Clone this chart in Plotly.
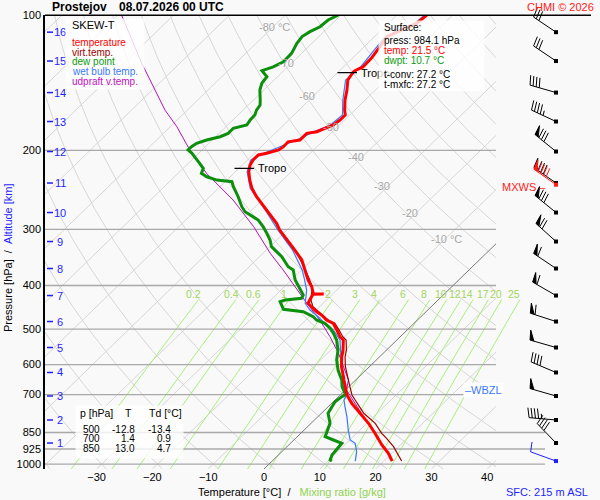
"""Skew-T log-p diagram, Prostejov 08.07.2026 00 UTC, rebuilt with Plotly."""

import math

import numpy as np
import plotly.graph_objects as go

# ---------------------------------------------------------------- data
# temperature profile [hPa], [degC]
temp_p = [984.1, 945.8, 906.3, 875.8, 853.5, 810.9, 770.4, 731.9, 701.3, 672.1,
          649.4, 638.5, 606.6, 576.3, 556.8, 529.0, 520.1, 502.6, 485.6, 477.4,
          465.4, 457.5, 445.9, 438.2, 430.8, 418.2, 417.8, 417.4, 402.4, 388.9,
          369.4, 351.0, 333.5, 316.7, 301.0, 290.8, 281.1, 271.6, 262.4, 253.7,
          242.9, 232.9, 223.2, 215.7, 210.1, 204.8, 203.0, 199.6, 196.3, 191.4,
          189.7, 183.3, 181.8, 178.3, 175.6, 171.2, 166.8, 162.7, 154.5, 146.8,
          139.4, 133.8, 132.8, 130.4, 124.6, 117.6, 111.6, 104.2, 100.0]
temp_t = [21.5, 19.4, 16.7, 14.8, 13.3, 10.3, 6.9, 3.6, 1.2, -0.7,
          -2.1, -2.8, -5.0, -6.8, -7.8, -9.6, -10.8, -12.6, -14.5, -16.3,
          -18.1, -19.6, -21.4, -22.7, -23.0, -23.5, -21.6, -23.5, -25.1, -27.0,
          -29.4, -31.8, -34.9, -38.2, -41.3, -43.1, -45.2, -47.3, -49.5, -51.6,
          -54.0, -55.9, -57.6, -58.6, -59.0, -59.0, -57.8, -56.3, -56.0, -56.1,
          -54.3, -54.3, -52.8, -52.0, -51.1, -50.8, -50.8, -51.8, -53.6, -55.1,
          -56.8, -57.3, -57.2, -56.5, -56.6, -57.2, -57.8, -54.9, -54.6]

virt_p = [984.1, 945.8, 914.2, 875.8, 853.5, 810.9, 770.4, 719.6, 701.3, 672.1,
          649.4, 606.6, 576.3, 556.8, 529.0, 520.1, 502.6, 485.6, 477.4, 465.4,
          445.9, 430.8, 402.4, 369.4, 333.5, 301.0]
virt_t = [23.2, 21.0, 19.1, 16.3, 14.5, 11.5, 7.6, 3.6, 2.1, 0.2,
          -1.3, -4.3, -6.2, -7.2, -9.1, -10.3, -12.2, -14.2, -16.0, -17.9,
          -21.2, -22.8, -25.0, -29.3, -34.8, -41.2]

dew_p = [984.1, 978.7, 954.0, 898.4, 883.4, 868.6, 853.5, 810.9, 770.4, 744.5,
         725.7, 707.3, 700.0, 672.1, 649.4, 617.0, 586.1, 556.8, 529.0, 511.1,
         498.2, 485.6, 477.4, 469.4, 457.5, 451.9, 434.6, 430.8, 427.1, 419.9,
         412.9, 405.8, 398.9, 388.9, 379.1, 369.4, 363.3, 345.1, 327.8, 316.7,
         306.1, 295.8, 285.9, 278.6, 274.0, 267.0, 253.7, 241.0, 234.8, 232.9,
         229.0, 225.0, 219.3, 212.0, 203.0, 199.6, 196.3, 192.9, 189.7, 186.5,
         183.3, 178.6, 175.6, 171.2, 166.8, 162.7, 158.5, 154.5, 146.8, 141.8,
         137.1, 132.9, 130.3, 127.0, 121.6, 115.5, 111.6, 108.8, 106.1, 102.5,
         100.0]
dew_t = [10.7, 10.2, 9.6, 9.2, 7.1, 5.0, 4.6, 3.4, 1.2, 0.6,
         0.3, 0.6, 0.9, -1.2, -2.5, -5.0, -7.1, -8.7, -10.8, -12.6,
         -14.1, -16.0, -18.1, -19.3, -22.0, -26.0, -28.0, -27.4, -24.8, -25.1,
         -26.0, -26.9, -27.8, -29.3, -30.4, -31.5, -33.0, -36.0, -39.7, -41.2,
         -43.0, -44.9, -47.0, -49.4, -50.9, -52.4, -54.9, -57.6, -58.8, -61.8,
         -64.2, -65.8, -66.4, -68.5, -71.2, -72.5, -72.5, -72.2, -71.0, -69.2,
         -68.4, -68.4, -66.6, -66.9, -67.0, -67.6, -67.9, -68.8, -70.7, -71.6,
         -71.9, -73.9, -72.6, -71.7, -71.8, -72.7, -73.0, -72.5, -71.6, -71.4,
         -70.5]

wetb_p = [984.1, 938.0, 898.4, 883.4, 839.2, 783.9, 744.5, 719.6, 700.0, 672.1,
          649.4, 617.0, 586.1, 556.8, 529.0, 502.6, 485.6, 469.4, 453.6, 438.2,
          418.0, 409.4, 388.9, 369.4, 333.5, 301.0, 271.6, 242.9, 223.2, 210.1,
          203.0, 196.3, 189.7, 181.8, 175.6, 166.8, 154.5, 139.4, 130.4, 119.6,
          111.6, 104.2, 100.0]
wetb_t = [14.9, 13.4, 11.6, 10.1, 7.9, 5.2, 3.0, 1.6, 1.1, -1.0,
          -2.3, -4.2, -6.3, -8.3, -10.2, -13.2, -16.0, -18.4, -21.1, -23.2,
          -24.8, -25.4, -27.6, -29.9, -35.3, -41.6, -47.6, -54.3, -57.9, -59.4,
          -58.3, -56.5, -54.9, -53.3, -51.6, -51.3, -54.0, -57.2, -56.9, -57.6,
          -58.1, -55.3, -55.0]

updraft_p = [770.4, 683.6, 649.4, 617.0, 566.3, 520.1, 477.4, 438.2, 402.4, 369.4,
             339.1, 295.8, 258.0, 225.0, 199.6, 177.2, 162.7, 128.0, 100.0]
updraft_t = [7.2, 0.2, -1.3, -3.8, -8.0, -12.6, -17.5, -22.9, -28.1, -33.3,
             -38.7, -46.6, -55.2, -64.9, -72.2, -78.8, -84.0, -96.8, -109.3]

tropo_p = [219.3, 134.3]
tropo_t = [-58.1, -57.3]

# altitude marks [km] and their pressure levels
km_levels = list(range(1, 17))
km_p = [897.1, 797.2, 704.9, 624.8, 549.7, 481.1, 421.1, 366.6, 319.2, 275.1,
        236.5, 201.2, 172.5, 148.7, 126.5, 109.1]

# wind: surface + every km level
wind_p = [984.1] + km_p
wind_dir = [290, 316, 275, 286, 293, 286, 288, 300, 304, 312, 309, 305, 309, 295, 286, 304, 304]
wind_kt = [10, 40, 45, 50, 40, 50, 60, 60, 60, 70, 80, 80, 80, 45, 40, 30, 30]
mxws_p, mxws_dir, mxws_kt = 238.5, 305, 90
wbzl_p = 683.6

sfc_press, sfc_temp, sfc_dwpt = 984.1, 21.5, 10.7
t_conv, t_mxfc = 27.2, 27.2
sfc_alt = 215

table_p = [500, 700, 850]
table_t = [-12.8, 1.4, 13.0]
table_td = [-13.4, 0.9, 4.7]

pressure_ticks = [100, 200, 300, 400, 500, 600, 700, 850, 925, 1000]
temp_ticks = [-30, -20, -10, 0, 10, 20, 30, 40]
isotherm_t = list(range(-120, 50, 10))
adiabat_theta = list(range(-40, 210, 10))
mix_ratios = [0.2, 0.4, 0.6, 1, 2, 3, 4, 6, 8, 10, 12, 14, 17, 20, 25]
iso_label_t = [-80, -70, -60, -50, -40, -30, -20, -10]
iso_label_p = [106.4, 127.6, 151.4, 177.4, 206.9, 240.2, 275.3, 315.1]

# ---------------------------------------------------------------- geometry
W, H = 600, 500
PX_LEFT, PX_RIGHT, PX_GRID_RIGHT = 45, 545, 496
PX_TOP, PX_BOT = 15.2, 469
P_TOP, P_BOT = 100.0, 1025.0
X_LEFT, X_RIGHT = -39.25, 50.36
SKEW = 36.0
X_GRID_RIGHT = X_LEFT + (PX_GRID_RIGHT - PX_LEFT) / (PX_RIGHT - PX_LEFT) * (X_RIGHT - X_LEFT)

FONT = "Liberation Sans, Arial, sans-serif"
GRID = "#d6d6d6"
ISOBAR = "#a9a9a9"
MIX_LINE = "#a9ef7c"
MIX_TEXT = "#a3d65a"
BLUE = "#1f1fff"


def skew_x(t, p):
    return np.asarray(t, dtype=float) + SKEW * np.log(P_BOT / np.asarray(p, dtype=float))


def px_y(p):
    return PX_BOT - (PX_BOT - PX_TOP) * math.log(P_BOT / p) / math.log(P_BOT / P_TOP)


def dewpoint_from_w(w, p):
    e = w * p / (622.0 + w)
    a = np.log(e / 6.112)
    return 243.5 * a / (17.67 - a)


def clip_right(xs, ps, xmax):
    out_x, out_p = [], []
    for i in range(len(xs)):
        inside = xs[i] <= xmax
        if i > 0 and inside != (xs[i - 1] <= xmax):
            f = (xmax - xs[i - 1]) / (xs[i] - xs[i - 1])
            lp = math.log(ps[i - 1]) + f * (math.log(ps[i]) - math.log(ps[i - 1]))
            out_x.append(xmax)
            out_p.append(math.exp(lp))
            if not inside:
                out_x.append(None)
                out_p.append(None)
        if inside:
            out_x.append(float(xs[i]))
            out_p.append(float(ps[i]))
    out_x.append(None)
    out_p.append(None)
    return out_x, out_p


def barb(px, py, d, kt, lines, flags, length=27.0, blen=10.0, step=3.2):
    a = math.radians(d)
    ux, uy = math.sin(a), -math.cos(a)
    nx, ny = -uy, ux
    ca, sa = math.cos(math.radians(78)), math.sin(math.radians(78))
    bx, by = ca * ux + sa * nx, ca * uy + sa * ny
    tx, ty = px + length * ux, py + length * uy
    lines += [(px, py), (tx, ty), None]
    n50, rest = divmod(kt, 50)
    n10, rest = divmod(rest, 10)
    s = 0.0
    for _ in range(n50):
        x0, y0 = tx - s * ux, ty - s * uy
        flags += [(x0, y0), (x0 + blen * bx, y0 + blen * by), (x0 - 4 * ux, y0 - 4 * uy), None]
        s += 5.0
    for _ in range(n10):
        x0, y0 = tx - s * ux, ty - s * uy
        lines += [(x0, y0), (x0 + blen * bx, y0 + blen * by), None]
        s += step
    if rest >= 5:
        x0, y0 = tx - s * ux, ty - s * uy
        lines += [(x0, y0), (x0 + 0.5 * blen * bx, y0 + 0.5 * blen * by), None]


def unzip(pts):
    return [q[0] if q else None for q in pts], [q[1] if q else None for q in pts]


fig = go.Figure()


def line(x, y, color, width, axes="main", **kw):
    ref = dict(xaxis="x2", yaxis="y2") if axes == "overlay" else {}
    fig.add_trace(go.Scatter(x=x, y=y, mode="lines", line=dict(color=color, width=width),
                             hoverinfo="skip", showlegend=False, **ref, **kw))


# ---------------------------------------------------------------- background grid
p_fine = np.geomspace(P_BOT, P_TOP, 300)
gx, gp = [], []
for t in isotherm_t:
    if t == 0:
        continue
    cx, cp = clip_right(skew_x(np.full_like(p_fine, t), p_fine), p_fine, X_GRID_RIGHT)
    gx += cx
    gp += cp
for th in adiabat_theta:
    t_line = (th + 273.15) * (p_fine / 1000.0) ** 0.2857 - 273.15
    cx, cp = clip_right(skew_x(t_line, p_fine), p_fine, X_GRID_RIGHT)
    gx += cx
    gp += cp
line(gx, gp, GRID, 1)

p_mix = np.geomspace(P_BOT, 430, 60)
mx, mp = [], []
for w in mix_ratios:
    mx += list(skew_x(dewpoint_from_w(w, p_mix), p_mix)) + [None]
    mp += list(p_mix) + [None]
line(mx, mp, MIX_LINE, 1)

ix, ip = [], []
for p in pressure_ticks[1:]:
    ix += [X_LEFT, X_RIGHT if p >= 850 else X_GRID_RIGHT, None]
    ip += [p, p, None]
line(ix, ip, ISOBAR, 1.3)

zx, zp = clip_right(skew_x(np.zeros_like(p_fine), p_fine), p_fine, X_GRID_RIGHT)
line(zx, zp, "#7a7a7a", 1)

# ---------------------------------------------------------------- profiles
line(list(skew_x(updraft_t, updraft_p)), updraft_p, "#b411b4", 1)
line(list(skew_x(virt_t, virt_p)), virt_p, "#a00000", 1.2)
line(list(skew_x(wetb_t, wetb_p)), wetb_p, "#3a78ff", 1.2)
line(list(skew_x(dew_t, dew_p)), dew_p, "#0c8f0c", 3)
line(list(skew_x(temp_t, temp_p)), temp_p, "#ff0000", 3)

tx_, tp_ = [], []
for p, t in zip(tropo_p, tropo_t):
    xc = float(skew_x(t, p))
    tx_ += [xc - 2.7, xc + 0.8, None]
    tp_ += [p, p, None]
line(tx_, tp_, "black", 1.2)

# ---------------------------------------------------------------- overlay decorations (pixel axes)
line([PX_LEFT, 591], [px_y(P_TOP), px_y(P_TOP)], "black", 1.5, axes="overlay")
kx, ky = [], []
for p in km_p:
    kx += [47, 53, None]
    ky += [px_y(p), px_y(p), None]
line(kx, ky, BLUE, 1.5, axes="overlay")

BARB_X = 556
for color, levels in (
    ("black", [(p, d, s) for p, d, s in zip(wind_p[1:], wind_dir[1:], wind_kt[1:])]),
    ("#ff1a1a", [(mxws_p, mxws_dir, mxws_kt)]),
    ("#1f1fff", [(wind_p[0], wind_dir[0], wind_kt[0])]),
):
    lines, flags = [], []
    for p, d, s in levels:
        barb(BARB_X, px_y(p), d, s, lines, flags)
    lx, ly = unzip(lines)
    line(lx, ly, color, 1, axes="overlay")
    if flags:
        fx, fy = unzip(flags)
        fig.add_trace(go.Scatter(x=fx, y=fy, mode="lines", fill="toself", fillcolor=color,
                                 line=dict(color=color, width=1), hoverinfo="skip",
                                 showlegend=False, xaxis="x2", yaxis="y2"))
    fig.add_trace(go.Scatter(x=[BARB_X] * len(levels), y=[px_y(q[0]) for q in levels],
                             mode="markers", marker=dict(symbol="square", size=4, color=color),
                             hoverinfo="skip", showlegend=False, xaxis="x2", yaxis="y2"))

# ---------------------------------------------------------------- text
ann = []


def txt(x, y, text, size=10, color="black", anchor="left", ref="overlay", **kw):
    xr, yr = ("x2", "y2") if ref == "overlay" else ("x", "y")
    ann.append(dict(x=x, y=y, xref=xr, yref=yr, text=text, showarrow=False, xanchor=anchor,
                    yanchor="middle", font=dict(family=FONT, size=size, color=color), **kw))


def box(x, y, w, h):
    ann.append(dict(x=x, y=y, xref="x2", yref="y2", text="&nbsp;", showarrow=False,
                    xanchor="left", yanchor="top", width=w, height=h, borderpad=0,
                    bgcolor="rgba(255,255,255,0.8)"))


for t, p in zip(iso_label_t, iso_label_p):
    label = f"{t} °C" if t in (-80, -10) else f"{t}"
    txt(float(skew_x(t, p)), math.log10(p), label, size=11, color="#a8a8a8", ref="main", xshift=-16)

for w in mix_ratios:
    xw = float(skew_x(dewpoint_from_w(w, 418.0), 418.0))
    txt(xw, math.log10(418.0), f"{w:g}", size=10.5, color=MIX_TEXT, anchor="center", ref="main", xshift=-9)

for p, t in zip(tropo_p, tropo_t):
    txt(float(skew_x(t, p)) + 0.8, math.log10(p), "Tropo", size=11, ref="main", xshift=2)

for km, p in zip(km_levels, km_p):
    txt(60, px_y(p), str(km), size=11, color=BLUE, anchor="center")

txt(548, px_y(mxws_p) + 2, "MXWS –", size=11, color="#ff2020", anchor="right")
txt(463, px_y(wbzl_p), "–WBZL", size=11, color="#3a78ff", bgcolor="white", borderpad=1)

# legend
box(65, 18, 78, 70)
txt(70, 25, "SKEW-T", size=11)
for i, (name, color) in enumerate([("temperature", "#ff0000"), ("virt.temp.", "#a00000"),
                                    ("dew point", "#0c9a0c"), ("wet bulb temp.", "#3a78ff"),
                                    ("udpraft v.temp.", "#c010c0")]):
    txt(70, 42.5 + 9.7 * i, name, color=color)

# surface box
box(378, 20, 105, 70)
txt(382, 27.3, "Surface:")
txt(382, 40, f"press: {sfc_press:.1f} hPa")
txt(382, 50, f"temp: {sfc_temp:.1f} °C", color="#ff0000")
txt(382, 60, f"dwpt: {sfc_dwpt:.1f} °C", color="#0c9a0c")
txt(382, 74.5, f"t-conv: {t_conv:.1f} °C")
txt(382, 84.3, f"t-mxfc: {t_mxfc:.1f} °C")

# level table
box(75, 405, 107, 52)
txt(78, 413, "p [hPa]", size=10.5)
txt(128, 413, "T", size=10.5, anchor="center")
txt(147, 413, "Td [°C]", size=10.5)
for i, (p, t, td) in enumerate(zip(table_p, table_t, table_td)):
    y = 429 + 9.7 * i
    txt(102, y, f"{p}", size=10, anchor="right")
    txt(137, y, f"{t:.1f}", size=10, anchor="right")
    txt(173, y, f"{td:.1f}", size=10, anchor="right")

# titles
txt(50, 7, "<b>Prostejov</b>", size=12)
txt(117, 7, "<b>08.07.2026 00 UTC</b>", size=12)
txt(596, 7, "CHMI © 2026", size=11, color="#ff2020", anchor="right")
txt(8, 258, f"Pressure [hPa]&nbsp;&nbsp;/&nbsp;&nbsp;<span style='color:{BLUE}'>Altitude [km]</span>",
    size=11, anchor="center", textangle=-90)
txt(292, 492, f"Temperature [°C]&nbsp;&nbsp;/&nbsp;&nbsp;&nbsp;<span style='color:#8fd24f'>Mixing ratio [g/kg]</span>",
    size=11, anchor="center")
txt(590, 492, f"SFC: {sfc_alt} m ASL", size=11, color=BLUE, anchor="right")

fig.update_layout(
    width=W,
    height=H,
    margin=dict(l=0, r=0, t=0, b=0, autoexpand=False),
    paper_bgcolor="#f9f9f9",
    plot_bgcolor="rgba(0,0,0,0)",
    showlegend=False,
    font=dict(family=FONT, size=11, color="black"),
    annotations=ann,
    xaxis=dict(domain=[PX_LEFT / W, PX_RIGHT / W], range=[X_LEFT, X_RIGHT], tickvals=temp_ticks,
               ticks="", showgrid=False, zeroline=False, showline=False, anchor="y",
               automargin=False, tickfont=dict(size=11, color="black")),
    yaxis=dict(domain=[1 - PX_BOT / H, 1 - PX_TOP / H], type="log",
               range=[math.log10(P_BOT), math.log10(P_TOP)], tickvals=pressure_ticks,
               ticktext=[str(p) for p in pressure_ticks], ticks="", showgrid=False,
               zeroline=False, showline=True, linecolor="black", linewidth=1.5, anchor="x",
               automargin=False, tickfont=dict(size=11, color="black")),
    xaxis2=dict(domain=[0, 1], range=[0, W], visible=False, anchor="y2", automargin=False),
    yaxis2=dict(domain=[0, 1], range=[H, 0], visible=False, anchor="x2", automargin=False),
)

# the page is photographed as is: drop the browser's default 8px body margin, no modebar
fig.write_html("out.html", config={"displayModeBar": False},
               post_script="document.body.style.margin='0px';")
